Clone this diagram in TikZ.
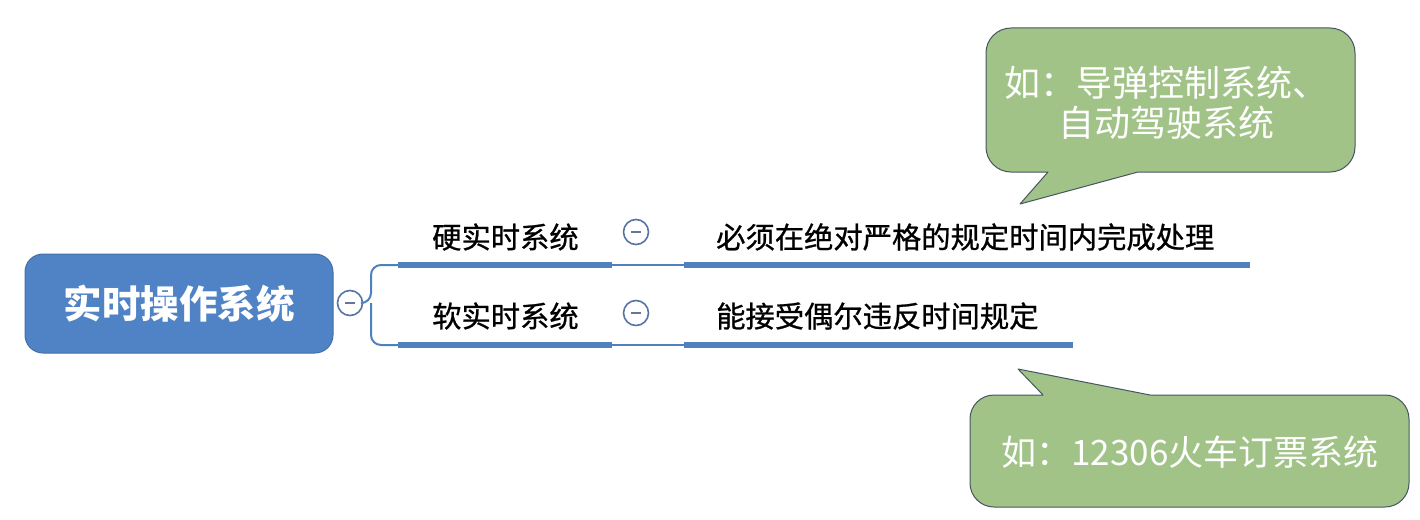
\documentclass[tikz,border=0pt]{standalone}
\usepackage{fontspec}
\newfontfamily\cjk{Noto Sans CJK SC}
\newfontfamily\cjkm[FakeBold=0.8]{Noto Sans CJK SC}
\definecolor{mblue}{RGB}{79,129,189}
\definecolor{rootblue}{RGB}{80,131,198}
\definecolor{cgreen}{RGB}{161,195,136}
\definecolor{cedge}{RGB}{70,85,100}
\definecolor{circedge}{RGB}{85,115,165}
\tikzset{
  rootbox/.style={fill=rootblue, draw=rootblue!85!black, line width=1pt, rounded corners=18pt, minimum width=308pt, minimum height=99pt, inner sep=0pt, text=white, font=\cjk\bfseries\fontsize{38.5}{42}\selectfont},
  branchtext/.style={inner sep=0pt, anchor=west, font=\cjkm\fontsize{29.3}{32}\selectfont, text=black},
  collapse/.style={circle, draw=circedge, fill=white, line width=1.6pt, minimum size=25pt, inner sep=0pt},
  minus/.style={draw=circedge!70!gray, line width=2pt},
  thickline/.style={draw=mblue, line width=6pt},
  thinline/.style={draw=mblue, line width=2pt},
  callout/.style={fill=cgreen, draw=cedge, line width=1pt, line join=round},
  callouttext/.style={text=white, inner sep=0pt}
}
\begin{document}
\begin{tikzpicture}[x=1pt,y=-1pt]
\useasboundingbox (0,0) rectangle (1420,519);
\fill[white] (0,0) rectangle (1420,519);
% root
\node[rootbox] (root) at (179,303.5) {实时操作系统};
\node[collapse] (c0) at (350,303) {};
\draw[minus] ([xshift=-5pt]c0.center) -- ([xshift=5pt]c0.center);
% bracket
\coordinate (bTop) at (398,265);
\coordinate (bBot) at (398,345);
\coordinate (bMid) at (371,303);
\draw[thinline, rounded corners=10pt] (c0.east) -- (bMid) |- (bTop);
\draw[thinline, rounded corners=10pt] (bMid) |- (bBot);
% top branch
\coordinate (t1) at (612,265);
\coordinate (t2) at (684,265);
\coordinate (t3) at (1250,265);
\draw[thickline] (bTop) -- (t1);
\draw[thinline] (t1) -- (t2);
\draw[thickline] (t2) -- (t3);
\node[branchtext] (hard) at (432,237) {硬实时系统};
\node[collapse] (c1) at (636,232) {};
\draw[minus] ([xshift=-5pt]c1.center) -- ([xshift=5pt]c1.center);
\node[branchtext] (hardd) at (716,237) {必须在绝对严格的规定时间内完成处理};
% bottom branch
\coordinate (u1) at (612,345);
\coordinate (u2) at (684,345);
\coordinate (u3) at (1073,345);
\draw[thickline] (bBot) -- (u1);
\draw[thinline] (u1) -- (u2);
\draw[thickline] (u2) -- (u3);
\node[branchtext] (soft) at (432,316) {软实时系统};
\node[collapse] (c2) at (636,313) {};
\draw[minus] ([xshift=-5pt]c2.center) -- ([xshift=5pt]c2.center);
\node[branchtext] (softd) at (716,316) {能接受偶尔违反时间规定};
% callout 1
\draw[callout] (1138,172) -- (1330,172) arc[start angle=90, end angle=0, radius=25] -- (1355,53) arc[start angle=0, end angle=-90, radius=25] -- (1011,28) arc[start angle=-90, end angle=-180, radius=25] -- (986,147) arc[start angle=180, end angle=90, radius=25] -- (1048,172) -- (1020,204) -- cycle;
\node[callouttext, align=center, font=\cjk\fontsize{36}{40}\selectfont] (call1) at (1166,103) {如：导弹控制系统、\\自动驾驶系统};
% callout 2
\draw[callout] (1043,395) -- (1018,369) -- (1150,395) -- (1385,395) arc[start angle=-90, end angle=0, radius=24] -- (1409,483) arc[start angle=0, end angle=90, radius=24] -- (994,507) arc[start angle=90, end angle=180, radius=24] -- (970,419) arc[start angle=180, end angle=270, radius=24] -- cycle;
\node[callouttext, font=\cjk\fontsize{35}{40}\selectfont] (call2) at (1190,452) {如：12306火车订票系统};
\end{tikzpicture}
\end{document}
